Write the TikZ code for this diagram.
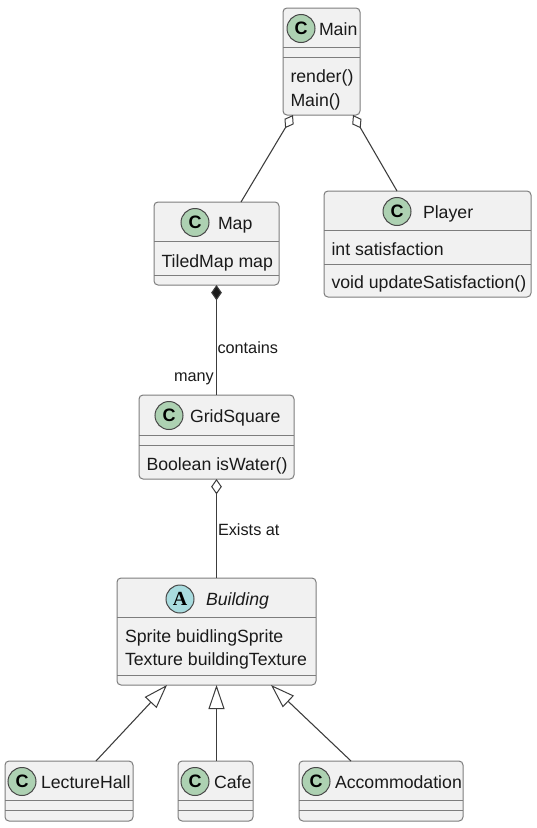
\documentclass[tikz,border=0pt]{standalone}
\usepackage{fontspec}
\setmainfont{Liberation Sans}
\newfontfamily\spotserif{Liberation Serif}
\usetikzlibrary{arrows.meta,calc}
\definecolor{boxfill}{HTML}{F1F1F1}
\definecolor{boxline}{HTML}{7D7D7D}
\definecolor{ink}{HTML}{1A1A1A}
\definecolor{classc}{HTML}{ADD1B2}
\definecolor{absc}{HTML}{A9DCDF}
\tikzset{
 x=0.75pt,y=-0.75pt,
 umlbox/.style={draw=boxline,fill=boxfill,line width=0.75pt,rounded corners=3pt,inner sep=0pt,outer sep=0pt,anchor=north west},
 sep/.style={draw=boxline,line width=0.7pt},
 lbl/.style={inner sep=0pt,outer sep=0pt,anchor=base west,text=ink,font=\fontsize{13.27pt}{14pt}\selectfont},
 spot/.style={circle,draw=ink!80,line width=0.75pt,minimum size=21pt,inner sep=0pt,text=black,font=\fontsize{13.5pt}{14pt}\selectfont\bfseries},
 link/.style={draw=ink!85,line width=0.8pt},
 odia/.style={link,{Diamond[open,fill=white,length=11.5pt,width=8pt,line width=0.75pt]}-},
 fdia/.style={link,{Diamond[fill=ink,length=11.5pt,width=8pt]}-},
 otri/.style={link,{Triangle[open,fill=white,length=18pt,width=12pt,line width=0.75pt]}-},
 small/.style={lbl,font=\fontsize{12.2pt}{14pt}\selectfont},
}
\newcommand{\umlclass}[9]{%
 \node[umlbox,minimum width=#4*0.75pt-#2*0.75pt,minimum height=#5*0.75pt-#3*0.75pt] (#1) at (#2,#3) {};
 \draw[sep] (#2,#6) -- (#4,#6);
 \draw[sep] (#2,#7) -- (#4,#7);
 \node[spot,fill=classc] (#1spot) at (#8,#3+20.5) {C};
 \node[lbl] (#1name) at (#9,#3+27) {#1};
}
\begin{document}
\begin{tikzpicture}
\useasboundingbox (0,0) rectangle (536,828);
\fill[white] (0,0) rectangle (536,828);

\umlclass{Main}{283}{8}{360}{115}{47}{57}{301}{319}
\node[lbl] (mainr) at (290.5,82.5) {render()};
\node[lbl] (mainm) at (290.5,106) {Main()};

\umlclass{Map}{154}{202}{279}{285}{241.5}{275}{195}{218}
\node[lbl] (mapf) at (161.5,267) {TiledMap map};

\umlclass{Player}{324}{191}{531}{297}{230}{264}{397}{423}
\node[lbl] (plf) at (331.5,255) {int satisfaction};
\node[lbl] (plm) at (331.5,288) {void updateSatisfaction()};

\umlclass{GridSquare}{139}{395}{294}{479}{435}{445}{169}{190}
\node[lbl] (gsm) at (146.5,470) {Boolean isWater()};

% Building (abstract)
\node[umlbox,minimum width=149.25pt,minimum height=80.25pt] (Building) at (117,578) {};
\draw[sep] (117,617) -- (316,617);
\draw[sep] (117,675) -- (316,675);
\node[spot,fill=absc,font=\fontsize{15pt}{14pt}\selectfont\spotserif\bfseries] (bspot) at (180,599) {A};
\node[lbl,font=\fontsize{13.27pt}{14pt}\selectfont\itshape] (bname) at (206,605) {Building};
\node[lbl] (bf1) at (125,642.5) {Sprite buidlingSprite};
\node[lbl] (bf2) at (125,665.5) {Texture buildingTexture};

\umlclass{LectureHall}{5}{761}{133}{821}{800}{810}{22}{41}
\umlclass{Cafe}{178}{761}{253}{821}{800}{810}{195}{214}
\umlclass{Accommodation}{299}{761}{463}{821}{800}{810}{316}{335}

% connectors
\draw[odia] ($(Main.south west)+(10,0)$) -- ($(Map.north west)+(87,0)$);
\draw[odia] ($(Main.south west)+(70,0)$) -- ($(Player.north west)+(73,0)$);
\draw[fdia] ($(Map.south west)+(62.5,0)$) -- ($(GridSquare.north west)+(77.5,0)$);
\draw[odia] ($(GridSquare.south west)+(77.5,0)$) -- ($(Building.north west)+(99.5,0)$);
\draw[otri] ($(Building.south west)+(50,0)$) -- ($(LectureHall.north west)+(91,0)$);
\draw[otri] ($(Building.south west)+(99.5,0)$) -- ($(Cafe.north west)+(38.5,0)$);
\draw[otri] ($(Building.south west)+(154,0)$) -- ($(Accommodation.north west)+(52,0)$);

\node[small] (l1) at (217.5,353) {contains};
\node[small] (l2) at (174,381) {many};
\node[small] (l3) at (218,535.5) {Exists at};
\end{tikzpicture}
\end{document}
